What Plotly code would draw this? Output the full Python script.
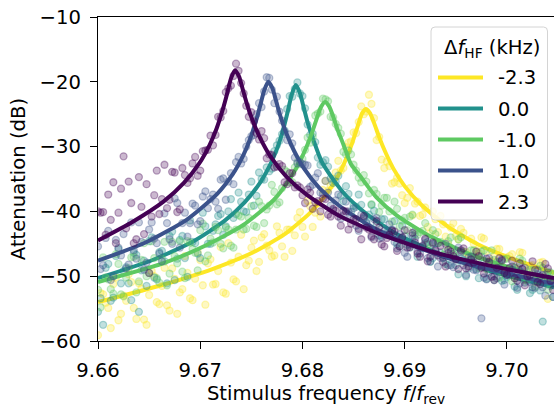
import plotly.graph_objects as go

# ---------------- data ----------------
# stimulus frequencies of the measured points (two interleaved sweeps)
dot_freq_a = [9.6600, 9.6605, 9.6610, 9.6615, 9.6620, 9.6625, 9.6630, 9.6635, 9.6640, 9.6645,
              9.6650, 9.6655, 9.6660, 9.6665, 9.6670, 9.6675, 9.6680, 9.6685, 9.6690, 9.6695,
              9.6700, 9.6705, 9.6710, 9.6715, 9.6720, 9.6725, 9.6730, 9.6735, 9.6740, 9.6745,
              9.6750, 9.6755, 9.6760, 9.6765, 9.6770, 9.6775, 9.6780, 9.6785, 9.6790, 9.6795,
              9.6800, 9.6805, 9.6810, 9.6815, 9.6820, 9.6825, 9.6830, 9.6835, 9.6840, 9.6845,
              9.6850, 9.6855, 9.6860, 9.6865, 9.6870, 9.6875, 9.6880, 9.6885, 9.6890, 9.6895,
              9.6900, 9.6905, 9.6910, 9.6915, 9.6920, 9.6925, 9.6930, 9.6935, 9.6940, 9.6945,
              9.6950, 9.6955, 9.6960, 9.6965, 9.6970, 9.6975, 9.6980, 9.6985, 9.6990, 9.6995,
              9.7000, 9.7005, 9.7010, 9.7015, 9.7020, 9.7025, 9.7030, 9.7035, 9.7040, 9.7045]
dot_freq_b = [9.66025, 9.66075, 9.66125, 9.66175, 9.66225, 9.66275, 9.66325, 9.66375, 9.66425, 9.66475,
              9.66525, 9.66575, 9.66625, 9.66675, 9.66725, 9.66775, 9.66825, 9.66875, 9.66925, 9.66975,
              9.67025, 9.67075, 9.67125, 9.67175, 9.67225, 9.67275, 9.67325, 9.67375, 9.67425, 9.67475,
              9.67525, 9.67575, 9.67625, 9.67675, 9.67725, 9.67775, 9.67825, 9.67875, 9.67925, 9.67975,
              9.68025, 9.68075, 9.68125, 9.68175, 9.68225, 9.68275, 9.68325, 9.68375, 9.68425, 9.68475,
              9.68525, 9.68575, 9.68625, 9.68675, 9.68725, 9.68775, 9.68825, 9.68875, 9.68925, 9.68975,
              9.69025, 9.69075, 9.69125, 9.69175, 9.69225, 9.69275, 9.69325, 9.69375, 9.69425, 9.69475,
              9.69525, 9.69575, 9.69625, 9.69675, 9.69725, 9.69775, 9.69825, 9.69875, 9.69925, 9.69975,
              9.70025, 9.70075, 9.70125, 9.70175, 9.70225, 9.70275, 9.70325, 9.70375, 9.70425]

labels = ["-2.3", "0.0", "-1.0", "1.0", "2.3"]
colors = [(253, 231, 37), (33, 145, 140), (94, 201, 98), (59, 82, 139), (68, 1, 84)]

# measured attenuation (dB), sweep a
dots_m23_a = [-59.1, -52.8, -54.9, -51.2, -56.8, -53.0, -49.7, -54.9, -51.1, -56.7,
              -52.9, -50.0, -54.3, -48.7, -55.3, -50.4, -52.5, -46.9, -53.4, -50.4,
              -47.5, -54.4, -47.4, -51.2, -45.5, -52.7, -47.9, -50.8, -43.6, -48.3,
              -45.6, -49.2, -44.0, -45.3, -47.0, -42.3, -45.4, -42.8, -46.1, -41.0,
              -42.4, -38.4, -42.4, -38.8, -36.7, -36.8, -35.0, -32.2, -33.3, -29.4,
              -27.8, -26.2, -25.0, -22.0, -25.6, -28.5, -33.3, -33.0, -35.5, -35.7,
              -38.7, -36.4, -38.8, -40.7, -39.4, -43.4, -41.2, -40.7, -43.9, -42.5,
              -43.8, -42.7, -46.3, -44.2, -46.0, -44.0, -46.1, -47.7, -45.8, -48.8,
              -47.1, -46.6, -48.9, -46.4, -49.1, -48.3, -50.6, -47.8, -53.5, -49.7]
dots_00_a = [-55.5, -57.5, -48.1, -53.3, -45.8, -49.2, -51.1, -46.4, -55.5, -47.6,
             -44.6, -50.2, -46.3, -47.7, -43.8, -50.6, -44.4, -47.2, -41.4, -44.9,
             -47.2, -42.3, -45.0, -42.0, -40.4, -42.3, -38.1, -40.4, -38.5, -40.1,
             -35.4, -37.6, -35.0, -33.2, -33.4, -29.8, -28.1, -24.2, -22.3, -20.1,
             -22.2, -26.6, -28.0, -31.7, -32.4, -33.1, -35.6, -34.5, -38.4, -37.3,
             -39.1, -37.4, -41.1, -40.5, -39.9, -43.7, -41.2, -43.5, -41.5, -45.4,
             -43.8, -45.6, -43.0, -45.6, -44.9, -47.8, -44.9, -46.4, -48.1, -45.6,
             -48.3, -47.2, -50.0, -47.3, -48.9, -47.0, -50.4, -48.9, -48.3, -50.7,
             -50.1, -48.5, -52.1, -49.7, -50.7, -52.1, -49.7, -57.0, -49.4, -53.2]
dots_m10_a = [-52.1, -47.1, -50.5, -52.7, -48.1, -53.1, -48.8, -47.0, -50.8, -44.9,
              -49.5, -47.2, -51.0, -44.7, -49.6, -46.9, -44.6, -50.3, -44.8, -46.4,
              -42.9, -47.7, -44.2, -42.4, -45.0, -42.5, -45.3, -42.8, -40.8, -42.7,
              -39.2, -42.4, -39.2, -39.7, -35.9, -38.9, -36.4, -33.9, -35.5, -32.4,
              -31.9, -28.6, -28.5, -24.9, -22.6, -23.0, -25.5, -27.1, -30.8, -30.6,
              -32.8, -34.8, -34.4, -37.2, -36.7, -40.1, -37.9, -40.0, -38.5, -42.3,
              -41.0, -40.8, -43.5, -43.2, -41.8, -45.7, -43.5, -44.7, -46.2, -44.0,
              -46.3, -44.0, -47.9, -46.0, -47.3, -46.2, -48.9, -46.0, -47.8, -49.1,
              -47.3, -50.8, -48.6, -47.6, -50.5, -49.1, -50.1, -48.7, -52.1, -49.7]
dots_10_a = [-45.4, -48.3, -43.0, -50.0, -45.6, -43.5, -48.2, -46.0, -41.7, -49.0,
             -42.8, -44.2, -46.5, -40.3, -44.3, -38.0, -45.6, -40.2, -41.8, -39.1,
             -41.5, -36.9, -38.1, -38.5, -35.1, -38.2, -34.1, -32.4, -32.6, -30.0,
             -28.4, -25.0, -23.9, -19.3, -21.2, -22.3, -26.0, -29.0, -29.5, -32.6,
             -32.7, -32.9, -35.9, -34.1, -37.3, -37.1, -39.8, -37.4, -40.6, -40.0,
             -39.5, -43.0, -40.9, -42.4, -41.2, -44.2, -43.0, -42.0, -44.7, -43.5,
             -46.4, -45.1, -44.2, -46.5, -44.4, -47.7, -45.9, -47.2, -45.0, -48.3,
             -47.3, -46.3, -49.8, -47.0, -49.1, -56.5, -50.5, -48.7, -50.3, -47.4,
             -49.8, -49.0, -51.8, -48.8, -50.2, -51.7, -49.1, -51.7, -50.4, -53.2]
dots_23_a = [-40.0, -40.1, -37.4, -35.5, -40.2, -31.5, -35.4, -44.9, -34.7, -43.5,
             -49.5, -37.5, -40.4, -32.8, -38.2, -34.0, -39.7, -34.4, -34.9, -31.6,
             -33.7, -30.6, -28.3, -28.2, -25.5, -21.6, -20.6, -17.2, -20.2, -23.7,
             -24.7, -27.9, -27.6, -31.8, -31.3, -33.1, -33.0, -35.8, -34.1, -36.0,
             -37.5, -36.6, -39.6, -38.4, -38.0, -40.5, -39.6, -40.8, -39.9, -42.8,
             -41.2, -42.7, -40.7, -42.8, -44.3, -42.5, -45.4, -43.6, -43.1, -45.4,
             -42.9, -45.5, -44.8, -47.0, -44.2, -47.0, -46.1, -45.3, -48.5, -46.2,
             -47.4, -46.0, -48.8, -47.4, -46.2, -48.7, -47.3, -50.1, -48.7, -47.6,
             -49.8, -47.6, -50.7, -48.9, -50.0, -47.7, -50.9, -49.8, -48.8, -52.1]

# measured attenuation (dB), sweep b
dots_m23_b = [-52.6, -54.1, -58.0, -50.2, -55.8, -53.8, -50.9, -56.6, -51.9, -57.5,
              -49.2, -54.0, -51.5, -54.5, -48.8, -55.8, -52.0, -49.5, -53.7, -46.3,
              -51.4, -48.0, -51.3, -49.2, -52.5, -44.9, -50.5, -47.0, -52.0, -47.6,
              -44.5, -47.8, -43.5, -46.0, -46.8, -43.3, -47.0, -42.8, -43.7, -40.1,
              -43.9, -39.2, -40.2, -40.8, -35.3, -36.0, -34.0, -33.7, -30.1, -29.2,
              -27.9, -23.8, -24.6, -23.4, -29.0, -32.0, -32.3, -35.7, -34.8, -37.5,
              -37.9, -40.6, -38.5, -40.5, -42.4, -40.0, -43.2, -42.0, -45.1, -41.8,
              -44.3, -43.3, -46.8, -45.0, -46.4, -44.2, -47.7, -46.9, -45.8, -49.0,
              -46.9, -48.6, -46.3, -49.6, -48.4, -50.9, -47.9, -50.0, -51.0]
dots_00_b = [-53.4, -48.7, -53.8, -46.9, -51.1, -48.6, -53.7, -46.7, -49.1, -51.5,
             -44.0, -50.5, -46.1, -51.1, -43.1, -47.3, -43.8, -50.1, -44.7, -46.5,
             -40.2, -45.0, -43.0, -40.7, -43.6, -40.0, -41.0, -37.1, -40.0, -37.4,
             -39.1, -34.0, -35.1, -33.8, -30.7, -29.1, -27.5, -22.2, -21.1, -21.8,
             -24.1, -28.2, -29.3, -32.8, -32.1, -34.9, -35.4, -37.6, -36.1, -40.1,
             -39.3, -39.0, -41.6, -39.0, -42.0, -41.2, -43.3, -42.9, -45.0, -42.2,
             -45.2, -44.2, -47.0, -45.6, -44.7, -47.2, -44.9, -47.2, -48.3, -46.6,
             -49.7, -47.5, -48.8, -47.0, -50.3, -47.9, -49.4, -50.6, -47.8, -50.6,
             -49.8, -51.6, -49.2, -51.0, -52.6, -50.4, -52.2, -49.8, -51.5]
dots_m10_b = [-54.8, -50.2, -52.0, -46.6, -52.8, -50.2, -47.1, -52.5, -47.5, -50.0,
              -44.6, -50.3, -47.3, -51.4, -44.7, -48.0, -49.3, -44.6, -45.8, -49.1,
              -41.9, -46.8, -44.8, -42.9, -45.7, -42.8, -45.6, -40.6, -42.8, -41.0,
              -42.2, -38.5, -41.8, -39.1, -37.0, -38.6, -33.6, -35.5, -33.2, -32.7,
              -30.5, -29.4, -25.2, -24.6, -22.7, -25.4, -26.5, -28.0, -31.2, -31.2,
              -33.7, -35.5, -35.4, -38.9, -37.3, -39.1, -37.9, -41.6, -39.6, -41.4,
              -42.9, -40.5, -43.6, -43.0, -45.1, -42.9, -44.9, -46.7, -44.6, -46.6,
              -44.3, -46.2, -47.7, -46.0, -48.7, -46.0, -48.3, -47.5, -50.2, -47.4,
              -48.9, -50.3, -47.3, -50.6, -49.0, -51.6, -48.4, -50.6, -49.4]
dots_10_b = [-48.9, -44.1, -50.6, -44.4, -46.8, -48.8, -41.7, -47.3, -44.7, -47.9,
             -41.7, -44.9, -47.7, -41.8, -45.0, -38.7, -41.8, -43.9, -38.8, -42.0,
             -37.7, -39.5, -37.4, -39.6, -34.9, -35.4, -35.8, -31.6, -31.9, -29.0,
             -28.2, -23.3, -21.5, -19.4, -23.3, -24.6, -27.7, -28.1, -31.7, -32.4,
             -32.8, -36.2, -34.8, -37.1, -35.3, -39.1, -38.3, -41.1, -38.5, -40.9,
             -42.2, -40.5, -41.8, -44.0, -41.0, -44.0, -43.6, -42.8, -45.7, -44.1,
             -47.0, -43.7, -46.2, -45.5, -47.2, -45.0, -48.5, -47.1, -46.4, -48.6,
             -45.6, -48.3, -47.1, -49.0, -48.4, -50.2, -47.2, -50.0, -48.8, -51.3,
             -49.7, -48.7, -51.1, -48.7, -50.9, -51.8, -50.0, -53.0, -50.7]
dots_23_b = [-40.2, -43.6, -41.3, -44.9, -36.5, -42.6, -38.7, -44.3, -39.3, -35.8,
             -40.8, -33.7, -38.1, -39.5, -33.9, -40.1, -33.3, -35.6, -32.6, -34.5,
             -30.7, -30.5, -29.8, -25.4, -24.5, -21.0, -19.1, -18.3, -21.8, -25.4,
             -26.1, -28.9, -28.7, -31.2, -33.2, -32.7, -35.5, -34.1, -36.3, -36.3,
             -38.7, -37.1, -38.6, -40.0, -38.1, -40.8, -39.9, -42.2, -40.0, -41.9,
             -41.2, -44.3, -42.5, -43.8, -41.5, -45.1, -44.1, -43.0, -46.1, -44.0,
             -45.6, -43.3, -46.5, -45.3, -47.7, -44.8, -46.8, -47.8, -45.9, -46.9,
             -48.9, -45.7, -48.5, -47.9, -46.9, -49.6, -47.8, -50.6, -47.2, -49.5,
             -48.7, -50.3, -48.0, -51.4, -49.9, -49.0, -51.2, -48.1, -50.7]

# fitted resonance curves
fit_freq_m23 = [9.66, 9.66619, 9.67119, 9.67519, 9.67819, 9.68069, 9.68239, 9.68349, 9.68429, 9.68489,
                9.68539, 9.68579, 9.68619, 9.68659, 9.68699, 9.68749, 9.68809, 9.68889, 9.68999, 9.69169,
                9.69419, 9.69719, 9.70019, 9.7046]
fit_att_m23 = [-54.0, -51.4, -48.9, -46.3, -43.6, -40.3, -37.2, -34.5, -31.8, -29.3,
               -26.9, -25.0, -24.2, -24.8, -26.3, -28.5, -30.8, -33.4, -36.1, -39.1,
               -42.3, -45.1, -47.1, -49.5]
fit_freq_00 = [9.66, 9.66534, 9.66934, 9.67234, 9.67434, 9.67584, 9.67684, 9.67754, 9.67814, 9.67854,
               9.67894, 9.67934, 9.67974, 9.68014, 9.68054, 9.68114, 9.68184, 9.68284, 9.68434, 9.68634,
               9.68934, 9.69334, 9.69834, 9.7046]
fit_att_00 = [-50.3, -47.5, -44.6, -41.5, -38.6, -35.6, -32.8, -30.2, -27.2, -24.7,
              -22.0, -20.5, -21.7, -24.1, -26.5, -29.3, -32.2, -34.7, -37.7, -40.5,
              -43.6, -46.5, -49.2, -51.7]
fit_freq_m10 = [9.66, 9.66621, 9.67021, 9.67421, 9.67721, 9.67871, 9.67971, 9.68041, 9.68101, 9.68141,
                9.68181, 9.68221, 9.68261, 9.68301, 9.68341, 9.68401, 9.68471, 9.68571, 9.68721, 9.68921,
                9.69221, 9.69621, 9.70121, 9.7046]
fit_att_m10 = [-50.9, -48.1, -45.5, -42.1, -38.2, -35.1, -32.4, -30.0, -27.5, -25.6,
               -23.9, -23.1, -23.8, -25.4, -27.3, -29.7, -32.6, -34.7, -37.8, -40.6,
               -43.6, -46.5, -49.1, -50.6]
fit_freq_10 = [9.66, 9.66466, 9.66866, 9.67166, 9.67316, 9.67416, 9.67486, 9.67546, 9.67586, 9.67626,
               9.67666, 9.67706, 9.67746, 9.67786, 9.67846, 9.67916, 9.68016, 9.68166, 9.68366, 9.68666,
               9.69066, 9.69566, 9.7046]
fit_att_10 = [-47.6, -44.8, -41.3, -37.3, -34.3, -31.5, -28.9, -26.0, -23.7, -21.3,
              -20.0, -21.0, -23.2, -25.4, -28.1, -30.6, -33.4, -36.4, -39.2, -42.3,
              -45.2, -47.9, -51.2]
fit_freq_23 = [9.6600, 9.6634, 9.6664, 9.6684, 9.6699, 9.6709, 9.6716, 9.6722, 9.6726, 9.6730,
               9.6734, 9.6738, 9.6742, 9.6746, 9.6752, 9.6759, 9.6769, 9.6784, 9.6804, 9.6834,
               9.6874, 9.6924, 9.6984, 9.7046]
fit_att_23 = [-44.5, -41.6, -38.5, -35.6, -32.6, -29.8, -27.2, -24.3, -22.0, -19.5,
              -18.2, -19.2, -21.4, -23.6, -26.3, -28.8, -31.6, -34.6, -37.4, -40.5,
              -43.4, -46.1, -48.4, -50.3]

x_ticks = [9.66, 9.67, 9.68, 9.69, 9.70]
x_ticktext = ["9.66", "9.67", "9.68", "9.69", "9.70"]
y_ticks = [-60, -50, -40, -30, -20, -10]

dots_all = [(dots_m23_a, dots_m23_b), (dots_00_a, dots_00_b), (dots_m10_a, dots_m10_b),
            (dots_10_a, dots_10_b), (dots_23_a, dots_23_b)]
fits_all = [(fit_freq_m23, fit_att_m23), (fit_freq_00, fit_att_00), (fit_freq_m10, fit_att_m10),
            (fit_freq_10, fit_att_10), (fit_freq_23, fit_att_23)]

# ---------------- figure ----------------
FONT = "DejaVu Sans"
FS = 19.6
W, H = 554, 409
ML, MR, MT, MB = 98, 0, 17, 68
PW, PH = W - ML - MR, H - MT - MB


def px(xp):
    return (xp - ML) / PW


def py(yp):
    return (H - MB - yp) / PH


fig = go.Figure()
for lab, col, (da, db), (ff, fa) in zip(labels, colors, dots_all, fits_all):
    r, g, b = col
    fig.add_trace(go.Scatter(
        x=dot_freq_a + dot_freq_b, y=da + db, mode="markers", showlegend=False,
        marker=dict(size=7, color=f"rgba({r},{g},{b},0.28)",
                    line=dict(color=f"rgba({r},{g},{b},0.34)", width=1.3)),
        hoverinfo="skip"))
    fig.add_trace(go.Scatter(
        x=ff, y=fa, mode="lines", name=lab, showlegend=False,
        line=dict(color=f"rgb({r},{g},{b})", width=4, shape="spline", smoothing=0.6)))

# legend drawn as a framed box
shapes, annotations = [], []
x0, x1, yT, yB = px(431), px(547.5), py(27), py(220)
dx, dy = 4 / PW, 4 / PH
shapes.append(dict(
    type="path", xref="paper", yref="paper", layer="above",
    path=(f"M{x0+dx},{yT} L{x1-dx},{yT} Q{x1},{yT} {x1},{yT-dy} L{x1},{yB+dy} "
          f"Q{x1},{yB} {x1-dx},{yB} L{x0+dx},{yB} Q{x0},{yB} {x0},{yB+dy} "
          f"L{x0},{yT-dy} Q{x0},{yT} {x0+dx},{yT} Z"),
    fillcolor="rgba(255,255,255,0.8)", line=dict(color="#d4d4d4", width=1)))
annotations.append(dict(
    xref="paper", yref="paper", x=px(541.5), y=py(48.5), xanchor="right", yanchor="middle",
    text="Δ<i>f</i><sub>HF</sub>\u00a0(kHz)", showarrow=False,
    font=dict(family=FONT, size=FS, color="black")))
for i, (lab, col) in enumerate(zip(labels, colors)):
    ypix = 77.5 + 31 * i
    shapes.append(dict(type="line", xref="paper", yref="paper", layer="above",
                       x0=px(438), x1=px(483), y0=py(ypix), y1=py(ypix),
                       line=dict(color=f"rgb{col}", width=4)))
    annotations.append(dict(xref="paper", yref="paper", x=px(496), y=py(ypix + 0.5),
                            xanchor="left", yanchor="middle", text=lab, showarrow=False,
                            font=dict(family=FONT, size=FS, color="black")))

axis_common = dict(showline=True, linecolor="black", linewidth=1.3, ticks="outside",
                   ticklen=7, tickwidth=1.3, tickcolor="black", showgrid=False, zeroline=False,
                   tickfont=dict(family=FONT, size=FS, color="black"))
fig.update_layout(
    width=W, height=H,
    margin=dict(l=ML, r=MR, t=MT, b=MB),
    paper_bgcolor="white", plot_bgcolor="white",
    font=dict(family=FONT, size=FS, color="black"),
    showlegend=False,
    xaxis=dict(range=[9.66, 9.7046], tickvals=x_ticks, ticktext=x_ticktext, mirror=True,
               ticklabelstandoff=4,
               title=dict(text="Stimulus frequency <i>f</i>/<i>f</i><sub>rev</sub>",
                          font=dict(family=FONT, size=FS), standoff=5),
               **axis_common),
    yaxis=dict(range=[-60, -10], tickvals=y_ticks, ticklabelstandoff=5,
               title=dict(text="Attenuation (dB)", font=dict(family=FONT, size=FS), standoff=8),
               **axis_common),
    shapes=shapes,
    annotations=annotations,
)
fig.write_html("out.html")
